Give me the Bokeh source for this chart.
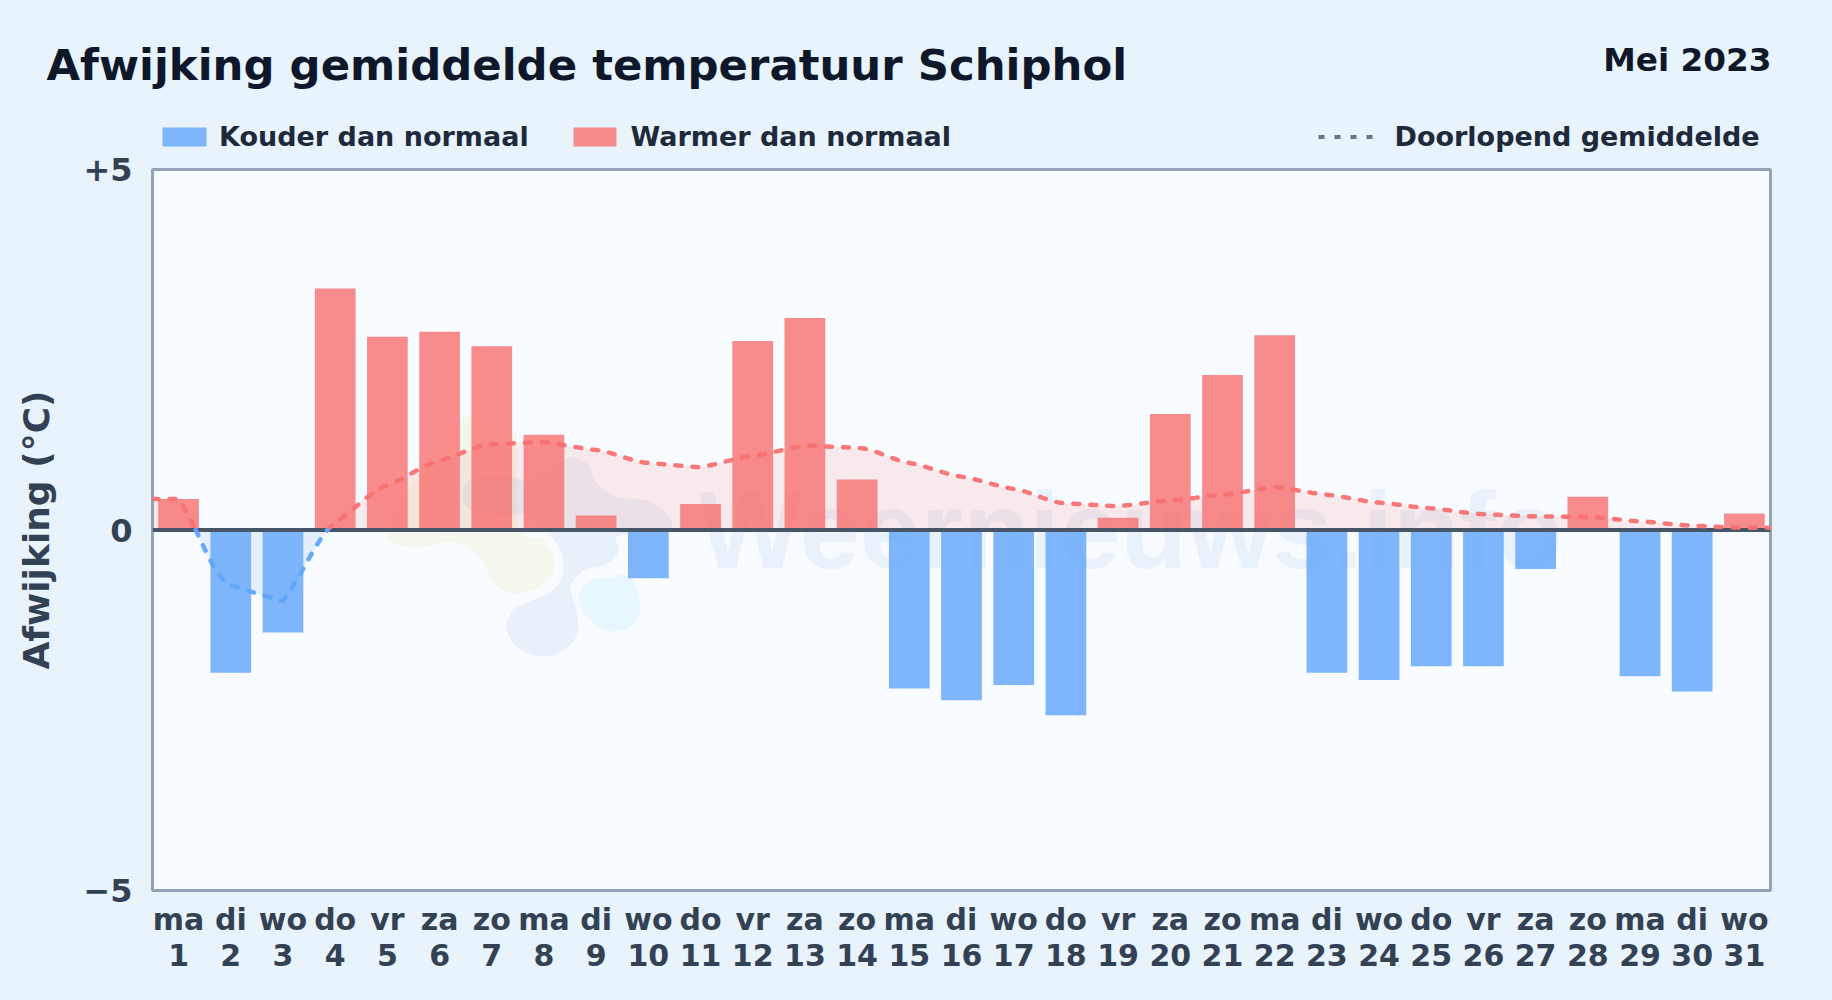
from bokeh.plotting import figure
from bokeh.layouts import column
from bokeh.embed import file_html
from bokeh.resources import INLINE
from bokeh.core.properties import value
from bokeh.models import FixedTicker, Range1d, LinearAxis
import numpy as np

# ---------- data ----------
weekdays = ["ma","di","wo","do","vr","za","zo"] * 4 + ["ma","di","wo"]
days = list(range(1, 32))
deviation = [0.43,-1.98,-1.42,3.35,2.68,2.75,2.55,1.32,0.20,-0.67,0.36,2.62,2.94,0.70,
             -2.20,-2.36,-2.15,-2.57,0.17,1.61,2.15,2.70,-1.98,-2.08,-1.89,-1.89,-0.54,
             0.46,-2.03,-2.24,0.23]
running_mean = [0.43,-0.77,-0.98,0.10,0.62,0.96,1.19,1.22,1.11,0.93,0.87,1.03,1.17,1.14,
                0.93,0.74,0.57,0.37,0.33,0.41,0.49,0.60,0.49,0.38,0.30,0.22,0.19,0.18,
                0.12,0.06,0.03]
y_ticks = [-5, 0, 5]
y_tick_labels = {-5: "\u22125", 0: "0", 5: "+5"}

TITLE = "Afwijking gemiddelde temperatuur Schiphol"
PERIOD = "Mei 2023"
LEGEND_COLD = "Kouder dan normaal"
LEGEND_WARM = "Warmer dan normaal"
LEGEND_MEAN = "Doorlopend gemiddelde"
FONT = "DejaVu Sans"
BG = "#e8f3fc"
PANEL = "#f8fbff"
RED = "#f87171"
BLUE = "#60a5fa"
COLD_ALPHA, WARM_ALPHA = 0.8, 0.8

PAGE_W, PAGE_H, HEAD_H = 1832, 1000, 152
FX0, FX1, FY0, FY1 = 152, 1770, 169, 890   # frame in page pixels

# ---------- header: title, period and legend ----------
head = figure(width=PAGE_W, height=HEAD_H, output_backend="svg", toolbar_location=None,
              x_range=Range1d(0, PAGE_W), y_range=Range1d(HEAD_H, 0),
              x_axis_location=None, y_axis_location=None,
              min_border=0, background_fill_color=BG, border_fill_color=BG)
head.frame_align = False
head.grid.visible = False
head.outline_line_color = None

def htext(txt, x, y, size, color, align="left"):
    head.text(x=[x], y=[y - 0.33 * size], text=[txt], text_font=value(FONT), text_font_style="bold",
              text_font_size=f"{size}px", text_color=color, text_align=align, text_baseline="alphabetic")

htext(TITLE, 46, 78.5, 43.4, "#0f172a")
htext(PERIOD, 1771, 70, 32.7, "#0f172a", "right")
head.quad(left=[162], right=[206], top=[127], bottom=[146], fill_color=BLUE, fill_alpha=COLD_ALPHA, line_color=None)
head.quad(left=[573], right=[616], top=[127], bottom=[146], fill_color=RED, fill_alpha=WARM_ALPHA, line_color=None)
head.line([1318, 1373], [136.5, 136.5], line_color="#64748b", line_width=4, line_dash="6 10")
htext(LEGEND_COLD, 218.5, 145, 27, "#1e293b")
htext(LEGEND_WARM, 630, 145, 27, "#1e293b")
htext(LEGEND_MEAN, 1394, 145, 27, "#1e293b")

# ---------- main chart ----------
L, R, T, B = FX0, PAGE_W - FX1, FY0 - HEAD_H, PAGE_H - FY1
p = figure(width=PAGE_W, height=PAGE_H - HEAD_H, output_backend="svg", toolbar_location=None,
           x_range=Range1d(0.5, 31.5), y_range=Range1d(-5, 5),
           min_border_left=L, min_border_right=R, min_border_top=T, min_border_bottom=B,
           background_fill_color=PANEL, border_fill_color=BG)
p.frame_align = False
p.grid.visible = False
p.outline_line_color = "#94a3b8"
p.outline_line_width = 3

def style_axis(a, size, standoff):
    a.major_label_text_font = FONT
    a.major_label_text_font_style = "bold"
    a.major_label_text_font_size = size
    a.major_label_text_color = "#334155"
    a.major_label_standoff = standoff
    a.axis_line_color = None
    a.major_tick_line_color = None
    a.minor_tick_line_color = None

ax = p.xaxis[0]
ax.ticker = FixedTicker(ticks=days)
ax.major_label_overrides = {d: w for d, w in zip(days, weekdays)}
style_axis(ax, "30px", 5)

ax2 = LinearAxis(ticker=FixedTicker(ticks=days), major_label_overrides={d: str(d) for d in days})
style_axis(ax2, "30px", -2)
p.add_layout(ax2, "below")

ay = p.yaxis[0]
ay.ticker = FixedTicker(ticks=y_ticks)
ay.major_label_overrides = y_tick_labels
style_axis(ay, "32px", 14)
ay.axis_label = "Afwijking (\u00b0C)"
ay.axis_label_text_font = FONT
ay.axis_label_text_font_style = "bold"
ay.axis_label_text_font_size = "36px"
ay.axis_label_text_color = "#334155"
ay.axis_label_standoff = 23

# ---------- watermark (decoration, placed by page pixel) ----------
def dx(px): return 0.5 + (np.asarray(px, float) - FX0) / (FX1 - FX0) * 31
def dy(py): return 5 - (np.asarray(py, float) - FY0) / (FY1 - FY0) * 10

def blob(zoom_pts, n=12):
    pts = np.array(zoom_pts, float)
    px, py = 370 + pts[:, 0] / 3, 400 + pts[:, 1] / 3
    m = len(px); xs, ys = [], []
    for i in range(m):
        for t in np.linspace(0, 1, n, endpoint=False):
            idx = [(i - 1) % m, i, (i + 1) % m, (i + 2) % m]
            c = lambda v: 0.5 * (2*v[idx[1]] + (v[idx[2]]-v[idx[0]])*t
                + (2*v[idx[0]]-5*v[idx[1]]+4*v[idx[2]]-v[idx[3]])*t*t
                + (3*v[idx[1]]-v[idx[0]]-3*v[idx[2]]+v[idx[3]])*t*t*t)
            xs.append(c(px)); ys.append(c(py))
    return dx(xs), dy(ys)

logo_green = [(50,405),(110,265),(190,170),(270,60),(300,50),(420,90),(440,130),(445,380),
              (520,420),(552,490),(520,550),(440,578),(370,550),(330,470),(250,425),(130,440)]
logo_grey = [(408,680),(430,625),(490,598),(545,570),(578,520),(570,450),(530,395),(470,345),
             (380,345),(300,330),(275,285),(300,235),(400,225),(490,240),(560,190),(600,170),
             (650,190),(680,250),(740,290),(830,300),(890,340),(895,385),(745,405),(745,450),
             (710,490),(640,510),(600,560),(620,640),(620,700),(580,750),(515,768),(440,740)]
logo_sky = [(625,600),(650,545),(720,530),(780,530),(810,620),(780,680),(720,692),(660,660)]
for pts, col, a in [(logo_green, "#d9e36b", 0.13), (logo_grey, "#4a90c8", 0.09), (logo_sky, "#38bdf8", 0.08)]:
    bx, by = blob(pts)
    p.patch(bx, by, fill_color=col, fill_alpha=a, line_color=None)

p.text(x=[float(dx(698))], y=[float(dy(529))], text=["Weernieuws.info"],
       text_font=value("Liberation Sans"), text_font_style="bold", text_font_size="109px",
       text_color="#3b7fc4", text_alpha=0.08, text_baseline="alphabetic", text_align="left")

# ---------- running mean: cubic curve through the read values ----------
def smooth(xs, ys, k=0.6, n=24):
    xs, ys = np.array(xs, float), np.array(ys, float)
    h = np.diff(xs)
    s = np.diff(ys) / h
    m_in, m_out = np.zeros(len(xs)), np.zeros(len(xs))
    for i in range(1, len(xs) - 1):
        if s[i-1] * s[i] <= 0:          # turning point: the reference bends sharply here
            m_in[i], m_out[i] = 0.8 * s[i-1], 0.8 * s[i]
        else:
            c = k * (ys[i+1] - ys[i-1]) / (xs[i+1] - xs[i-1])
            lim = min(abs(s[i-1]), abs(s[i]))
            m_in[i] = m_out[i] = np.sign(c) * min(abs(c), lim)
    ox, oy = [], []
    for i in range(len(h)):
        t = np.linspace(0, 1, n, endpoint=False)
        a = (2*t**3 - 3*t**2 + 1)*ys[i] + (t**3 - 2*t**2 + t)*h[i]*m_out[i] \
            + (-2*t**3 + 3*t**2)*ys[i+1] + (t**3 - t**2)*h[i]*m_in[i+1]
        ox += list(xs[i] + t*h[i]); oy += list(a)
    ox.append(xs[-1]); oy.append(ys[-1])
    return np.array(ox), np.array(oy)

cx = [0.5] + days + [31.5]
cy = [running_mean[0]] + running_mean + [running_mean[-1]]
sx, sy = smooth(cx, cy)
# insert zero crossings so that the two colours meet at the axis
xx, yy = [sx[0]], [sy[0]]
for i in range(1, len(sx)):
    if sy[i-1] * sy[i] < 0:
        f = sy[i-1] / (sy[i-1] - sy[i])
        xx.append(sx[i-1] + f * (sx[i] - sx[i-1])); yy.append(0.0)
    xx.append(sx[i]); yy.append(sy[i])
xx, yy = np.array(xx), np.array(yy)

p.varea(x=xx, y1=np.zeros_like(yy), y2=np.maximum(yy, 0), fill_color=RED, fill_alpha=0.13)
p.varea(x=xx, y1=np.zeros_like(yy), y2=np.minimum(yy, 0), fill_color=BLUE, fill_alpha=0.13)

# ---------- bars ----------
BAR_W = 0.78
warm_x = [d for d, v in zip(days, deviation) if v >= 0]
warm_v = [v for v in deviation if v >= 0]
cold_x = [d for d, v in zip(days, deviation) if v < 0]
cold_v = [v for v in deviation if v < 0]
p.vbar(x=cold_x, top=cold_v, bottom=0, width=BAR_W, fill_color=BLUE, fill_alpha=COLD_ALPHA, line_color=None)
p.vbar(x=warm_x, top=warm_v, bottom=0, width=BAR_W, fill_color=RED, fill_alpha=WARM_ALPHA, line_color=None)

p.line([0.5, 31.5], [0, 0], line_color="#475569", line_width=4)

pos = yy >= 0
neg = yy <= 0
p.line(x=np.where(pos, xx, np.nan), y=np.where(pos, yy, np.nan), line_color=RED, line_width=4.5,
       line_dash="6 11", line_cap="round", line_alpha=0.95)
p.line(x=np.where(neg, xx, np.nan), y=np.where(neg, yy, np.nan), line_color=BLUE, line_width=4.5,
       line_dash="6 11", line_cap="round", line_alpha=0.95)

page = column(head, p, spacing=0)
html = file_html(page, INLINE)
html = html.replace("<head>", f"<head><style>html,body{{background:{BG};}}</style>", 1)
open("out.html", "w").write(html)
